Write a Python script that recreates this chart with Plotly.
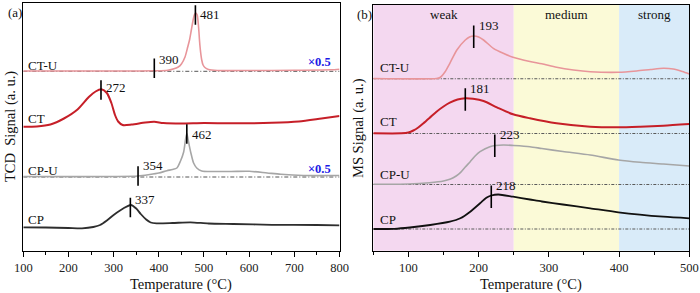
import plotly.graph_objects as go

# ---------------- data: H2-TPR (TCD), panel (a) ----------------
tpr_ctu_T = [100, 390, 420, 443, 450, 458, 464, 468, 472, 476, 479, 482, 485, 487, 489, 490, 492, 495, 498, 502, 510, 530, 600, 700, 780, 800]
tpr_ctu_y = [180, 180.2, 180.8, 184, 187, 194, 204, 211, 221, 231, 236.5, 238, 236, 229, 218, 211, 201, 191, 186, 183.5, 181.5, 180.5, 180.5, 180.7, 181.2, 181.8]

tpr_ct_T = [100, 130, 160, 190, 220, 245, 260, 273, 285, 295, 303, 310, 320, 340, 370, 390, 410, 450, 500, 560, 650, 710, 760, 800]
tpr_ct_y = [124.2, 124.5, 126.5, 132.5, 141.5, 154, 159.5, 161.7, 158, 148, 136, 129.5, 126, 126.5, 128.5, 129.2, 128, 127.5, 128, 127.7, 128.2, 129.5, 132.5, 135]

tpr_cpu_T = [100, 354, 380, 400, 418, 430, 440, 448, 455, 459, 462, 465, 471, 477, 484, 495, 520, 560, 600, 640, 670, 720, 800]
tpr_cpu_y = [74.5, 75, 76.5, 78, 80.3, 81.5, 83, 90, 99, 111, 117.5, 111, 98, 88, 83, 80, 79.5, 79.5, 79.7, 78, 76.7, 75.5, 75.5]

tpr_cp_T = [100, 150, 200, 230, 255, 270, 285, 300, 322, 338, 350, 360, 372, 382, 395, 430, 470, 510, 565, 650, 750, 800]
tpr_cp_y = [23.7, 23.5, 23, 22.7, 24, 26, 30.5, 36, 42.7, 46, 42.5, 37, 31.5, 28.5, 27.7, 28, 28.7, 27.5, 27, 26.2, 26, 25.7]

tpr_peak_T = [481, 390, 272, 462, 354, 337]
tpr_peak_y = [236, 182.7, 161, 117, 75, 43.5]
tpr_base_y = [179.7, 74]          # CT-U and CP-U baselines (scaled x0.5)

# ---------------- data: NH3-TPD (MS), panel (b) ----------------
tpd_ctu_T = [50, 140, 145, 152, 159, 169, 181, 187, 193, 200, 207, 221, 235, 249, 273, 290, 311, 335, 359, 399, 425, 445, 463, 477, 490, 500]
tpd_ctu_y = [172.5, 172.5, 173.5, 179, 187.7, 201, 211, 214, 215, 214, 211, 202.7, 197.7, 193.7, 189.5, 187.2, 183.7, 181, 179.3, 178.7, 180, 181.5, 182.7, 182, 179.5, 177]

tpd_ct_T = [50, 90, 100, 107, 114, 121, 130, 140, 150, 159, 170, 181, 192, 207, 226, 249, 273, 311, 359, 399, 430, 463, 500]
tpd_ct_y = [117.7, 117.7, 118.5, 120.5, 123.5, 127.5, 133, 139.3, 144.5, 148.3, 151.5, 152.7, 152.2, 150, 143.7, 136.7, 132.7, 127.7, 124.3, 123.7, 124.3, 125.3, 127]

tpd_cpu_T = [50, 100, 130, 150, 160, 168, 174, 181, 188, 195, 202, 216, 235, 250, 273, 290, 320, 359, 399, 430, 463, 500]
tpd_cpu_y = [66.7, 67, 68.3, 70, 72, 75, 78.3, 84, 89.3, 95, 99.3, 104.3, 106, 105.5, 104.3, 102.5, 99.5, 96, 91, 88.7, 87, 85]

tpd_cp_T = [50, 80, 102, 131, 159, 174, 188, 202, 211, 218, 228, 249, 273, 290, 320, 359, 399, 463, 500]
tpd_cp_y = [22, 22.2, 23.5, 26, 29.3, 32.7, 39.3, 47.7, 53.3, 55.5, 56.5, 54.3, 51.5, 49.5, 46.5, 42.7, 38.7, 34.3, 32.7]

tpd_peak_T = [193, 181, 223, 218]
tpd_peak_y = [214.3, 151.5, 105.2, 54.3]
tpd_base_y = [172.3, 117.5, 66.5, 22]

bands = ["weak", "medium", "strong"]
band_edges = [50, 250, 400, 500]

samples = ["CT-U", "CT", "CP-U", "CP"]
scale_label = "×0.5"

# ---------------- styling ----------------
FONT = "Liberation Serif, Times New Roman, serif"
COL = {"CT-U": "#E8959A", "CT": "#C61F28", "CP-U": "#A6A6A6", "CP": "#2E2E2E"}
COL_B = {"CT-U": "#E8959A", "CT": "#C61F28", "CP-U": "#A6A6A6", "CP": "#111111"}
WID = {"CT-U": 1.6, "CT": 2.0, "CP-U": 1.6, "CP": 1.8}
band_colors = ["#F4D8F0", "#FBFAD7", "#D9EBF9"]

fig = go.Figure()

tpr_sets = [(tpr_ctu_T, tpr_ctu_y), (tpr_ct_T, tpr_ct_y), (tpr_cpu_T, tpr_cpu_y), (tpr_cp_T, tpr_cp_y)]
tpd_sets = [(tpd_ctu_T, tpd_ctu_y), (tpd_ct_T, tpd_ct_y), (tpd_cpu_T, tpd_cpu_y), (tpd_cp_T, tpd_cp_y)]

# baselines panel (a)
for yb in tpr_base_y:
    fig.add_trace(go.Scatter(x=[100, 800], y=[yb, yb], mode="lines", xaxis="x", yaxis="y",
                             line=dict(color="#555555", width=1, dash="4px,2px,1px,2px"),
                             showlegend=False, hoverinfo="skip"))
for name, (T, y) in zip(samples, tpr_sets):
    fig.add_trace(go.Scatter(x=T, y=y, mode="lines", name=name, xaxis="x", yaxis="y",
                             line=dict(color=COL[name], width=WID[name], shape="spline", smoothing=0.7),
                             showlegend=False))
fig.add_trace(go.Scatter(x=tpr_peak_T, y=tpr_peak_y, mode="markers", xaxis="x", yaxis="y",
                         marker=dict(symbol="line-ns", size=14, line=dict(color="black", width=1.6)),
                         showlegend=False, hoverinfo="skip"))

# baselines panel (b)
for yb in tpd_base_y:
    fig.add_trace(go.Scatter(x=[50, 500], y=[yb, yb], mode="lines", xaxis="x2", yaxis="y2",
                             line=dict(color="#5a5a5a", width=1.1, dash="3px,1.5px,1px,1.5px"),
                             showlegend=False, hoverinfo="skip"))
for name, (T, y) in zip(samples, tpd_sets):
    fig.add_trace(go.Scatter(x=T, y=y, mode="lines", name=name, xaxis="x2", yaxis="y2",
                             line=dict(color=COL_B[name], width=WID[name], shape="spline", smoothing=0.7),
                             showlegend=False))
fig.add_trace(go.Scatter(x=tpd_peak_T, y=tpd_peak_y, mode="markers", xaxis="x2", yaxis="y2",
                         marker=dict(symbol="line-ns", size=16, line=dict(color="black", width=1.6)),
                         showlegend=False, hoverinfo="skip"))

# bands
shapes = []
for i, b in enumerate(bands):
    shapes.append(dict(type="rect", xref="x2", yref="y2 domain", x0=band_edges[i], x1=band_edges[i + 1],
                       y0=0, y1=1, fillcolor=band_colors[i], line=dict(width=0), layer="below"))

ann = []
txt = dict(family=FONT, size=13, color="#111111")
ttl = dict(family=FONT, size=14.5, color="#111111")
# peak labels
tpr_lbl_dy = [1, 9, 3, 0, 11, 8]
for T, y, dy in zip(tpr_peak_T, tpr_peak_y, tpr_lbl_dy):
    ann.append(dict(x=T, y=y, xref="x", yref="y", text=str(T), showarrow=False, xanchor="left",
                    yanchor="middle", xshift=3, yshift=dy, font=txt))
for T, y in zip(tpd_peak_T, tpd_peak_y):
    ann.append(dict(x=T, y=y, xref="x2", yref="y2", text=str(T), showarrow=False, xanchor="left",
                    yanchor="middle", xshift=3, yshift=11, font=txt))
# sample labels
tpr_lbl_y = [185.3, 132.7, 80.3, 31.7]
tpd_lbl_y = [183.3, 130, 76.7, 31.7]
for s, y in zip(samples, tpr_lbl_y):
    ann.append(dict(x=26 / 700, y=y, xref="paper", yref="y", text=s, showarrow=False,
                    xanchor="left", yanchor="middle", font=txt))
for s, y in zip(samples, tpd_lbl_y):
    ann.append(dict(x=378 / 700, y=y, xref="paper", yref="y2", text=s, showarrow=False,
                    xanchor="left", yanchor="middle", font=txt))
# scale labels
for y in [188.7, 81.7]:
    ann.append(dict(x=306 / 700, y=y, xref="paper", yref="y", text="<b>" + scale_label + "</b>",
                    showarrow=False, xanchor="left", yanchor="middle",
                    font=dict(family=FONT, size=12.5, color="#1a1ae6")))
# band labels
for i, b in enumerate(bands):
    ann.append(dict(x=(band_edges[i] + band_edges[i + 1]) / 2, y=1 - 15 / 293, xref="x2", yref="paper",
                    text=b, showarrow=False, xanchor="center", yanchor="middle", font=txt))
# panel labels
ann.append(dict(x=6 / 700, y=1 - 13 / 293, xref="paper", yref="paper", text="(a)", showarrow=False,
                xanchor="left", yanchor="middle", font=txt))
ann.append(dict(x=355 / 700, y=1 - 15 / 293, xref="paper", yref="paper", text="(b)", showarrow=False,
                xanchor="left", yanchor="middle", font=txt))
# axis titles
ann.append(dict(x=10 / 700, y=1 - 127 / 293, xref="paper", yref="paper", text="TCD\u00a0\u00a0Signal (a. u.)",
                showarrow=False, textangle=-90, xanchor="center", yanchor="middle", font=ttl))
ann.append(dict(x=358 / 700, y=1 - 128 / 293, xref="paper", yref="paper", text="MS Signal (a. u.)",
                showarrow=False, textangle=-90, xanchor="center", yanchor="middle", font=ttl))
ann.append(dict(x=181 / 700, y=1 - 284 / 293, xref="paper", yref="paper", text="Temperature (°C)",
                showarrow=False, xanchor="center", yanchor="middle", font=ttl))
ann.append(dict(x=531 / 700, y=1 - 284 / 293, xref="paper", yref="paper", text="Temperature (°C)",
                showarrow=False, xanchor="center", yanchor="middle", font=ttl))

ax_common = dict(showline=True, linecolor="black", linewidth=1, mirror=True, showgrid=False,
                 zeroline=False, ticks="outside", ticklen=5, tickwidth=1, tickcolor="black",
                 automargin=False, tickfont=dict(family=FONT, size=12.5, color="#222222"))

fig.update_layout(
    width=700, height=293, margin=dict(l=0, r=0, t=0, b=0, pad=0, autoexpand=False),
    paper_bgcolor="white", plot_bgcolor="white",
    xaxis=dict(domain=[23.3 / 700, 339.5 / 700], range=[100, 800], dtick=100, anchor="y",
               minor=dict(dtick=50, ticks="outside", ticklen=3, tickcolor="black"), **ax_common),
    yaxis=dict(domain=[1 - 250.7 / 293, 1 - 2.5 / 293], range=[0.3, 248.5], anchor="x", automargin=False,
               showline=True, linecolor="black", linewidth=1, mirror=True, showgrid=False,
               zeroline=False, showticklabels=False, ticks=""),
    xaxis2=dict(domain=[373.3 / 700, 689.3 / 700], range=[50, 500], dtick=100, tick0=0, anchor="y2",
                minor=dict(dtick=50, ticks="outside", ticklen=3, tickcolor="black"), **ax_common),
    yaxis2=dict(domain=[1 - 250.7 / 293, 1 - 5 / 293], range=[0.3, 246], anchor="x2", automargin=False,
                showline=True, linecolor="black", linewidth=1, mirror=True, showgrid=False,
                zeroline=False, showticklabels=False, ticks=""),
    shapes=shapes, annotations=ann,
)

fig.write_html("out.html", config={"displayModeBar": False},
               post_script="document.body.style.margin='0px';document.body.style.overflow='hidden';")
